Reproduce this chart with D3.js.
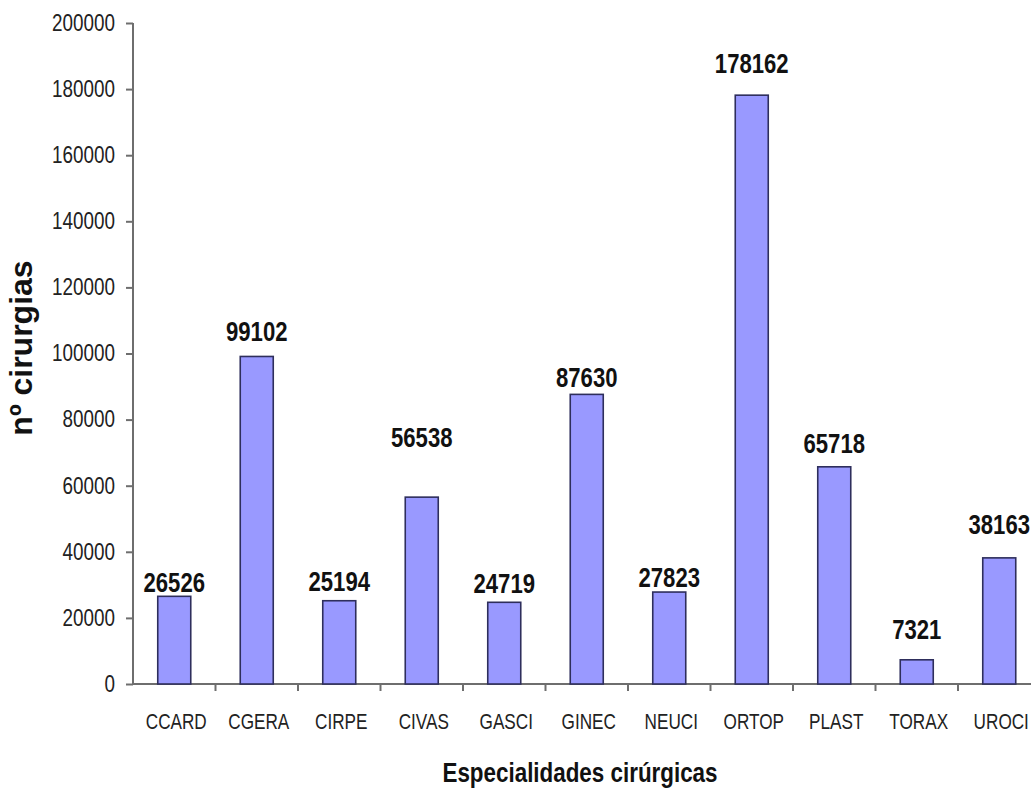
<!DOCTYPE html>
<html>
<head>
<meta charset="utf-8">
<script src="https://cdn.jsdelivr.net/npm/d3@7"></script>
<style>
  html, body { margin: 0; padding: 0; background: #fff; overflow: hidden; }
  svg { display: block; }
</style>
</head>
<body>
<svg id="chart" width="1031" height="788"></svg>
<script>
// Surgical specialties and number of surgeries
const categories = ["CCARD", "CGERA", "CIRPE", "CIVAS", "GASCI", "GINEC", "NEUCI", "ORTOP", "PLAST", "TORAX", "UROCI"];
const surgeries = [26526, 99102, 25194, 56538, 24719, 87630, 27823, 178162, 65718, 7321, 38163];
const yTicks = [0, 20000, 40000, 60000, 80000, 100000, 120000, 140000, 160000, 180000, 200000];

// Distance (px) from bar top to the value label baseline
const labelGap = [4, 15, 10, 50, 9, 7, 5, 22, 14, 21, 24];

const FONT = "'Liberation Sans', Arial, sans-serif";
const svg = d3.select("#chart");

// Draws horizontally condensed text anchored at (data-x, data-y)
function narrowText(sel, sx) {
  return sel.attr("transform", function () {
    const px = +this.getAttribute("data-x"), py = +this.getAttribute("data-y");
    return `translate(${px},${py}) scale(${sx},1)`;
  });
}

const x = d3.scaleBand()
  .domain(categories)
  .range([133, 1040.5])
  .paddingInner(0.6)
  .paddingOuter(0.3);

const y = d3.scaleLinear()
  .domain([0, 200000])
  .range([684, 23]);

const axisColor = "#6e6e6e";

// Y axis
const yAxis = svg.append("g")
  .attr("transform", "translate(133,0)")
  .call(d3.axisLeft(y).tickValues(yTicks).tickSize(7).tickPadding(11).tickFormat(d3.format("d")));
yAxis.select(".domain").attr("stroke", axisColor).attr("stroke-width", 2).attr("d", `M0,${y(200000)}V${y(0)}`);
yAxis.selectAll(".tick line").attr("stroke", axisColor).attr("stroke-width", 2);
yAxis.selectAll(".tick text")
  .attr("font-family", FONT)
  .attr("font-size", 23)
  .attr("fill", "#222")
  .attr("x", -18 / 0.82)
  .attr("transform", "scale(0.82,1)");

// X axis: ticks on category boundaries
const xAxisG = svg.append("g").attr("transform", `translate(0,${y(0)})`);
xAxisG.append("line")
  .attr("x1", 133).attr("x2", 1040.5)
  .attr("stroke", axisColor).attr("stroke-width", 2);
const step = x.step();
const boundaries = d3.range(1, categories.length).map(i => x.range()[0] + i * step);
xAxisG.selectAll("line.tick")
  .data(boundaries)
  .join("line")
  .attr("class", "tick")
  .attr("x1", d => d).attr("x2", d => d)
  .attr("y1", 0).attr("y2", 7)
  .attr("stroke", axisColor).attr("stroke-width", 2);
xAxisG.selectAll("text")
  .data(categories)
  .join("text")
  .attr("data-x", d => x(d) + x.bandwidth() / 2 + 2)
  .attr("data-y", 45)
  .attr("text-anchor", "middle")
  .attr("font-family", FONT)
  .attr("font-size", 22)
  .attr("fill", "#222")
  .text(d => d)
  .call(narrowText, 0.78);

// Bars
svg.append("g")
  .selectAll("rect")
  .data(categories)
  .join("rect")
  .attr("x", d => x(d))
  .attr("y", (d, i) => y(surgeries[i]))
  .attr("width", x.bandwidth())
  .attr("height", (d, i) => y(0) - y(surgeries[i]))
  .attr("fill", "#9999ff")
  .attr("stroke", "#2e2e5c")
  .attr("stroke-width", 1.6);

// Value labels
svg.append("g")
  .selectAll("text")
  .data(categories)
  .join("text")
  .attr("data-x", d => x(d) + x.bandwidth() / 2)
  .attr("data-y", (d, i) => y(surgeries[i]) - labelGap[i])
  .attr("text-anchor", "middle")
  .attr("font-family", FONT)
  .attr("font-size", 28)
  .attr("font-weight", "bold")
  .attr("fill", "#111")
  .text((d, i) => surgeries[i])
  .call(narrowText, 0.79);

// Axis titles
svg.append("text")
  .attr("data-x", 580)
  .attr("data-y", 782)
  .attr("text-anchor", "middle")
  .attr("font-family", FONT)
  .attr("font-size", 28)
  .attr("font-weight", "bold")
  .attr("fill", "#111")
  .text("Especialidades cirúrgicas")
  .call(narrowText, 0.8);

svg.append("text")
  .attr("transform", "translate(32,348) rotate(-90)")
  .attr("text-anchor", "middle")
  .attr("font-family", FONT)
  .attr("font-size", 32)
  .attr("font-weight", "bold")
  .attr("fill", "#111")
  .text("nº cirurgias");
</script>
</body>
</html>
